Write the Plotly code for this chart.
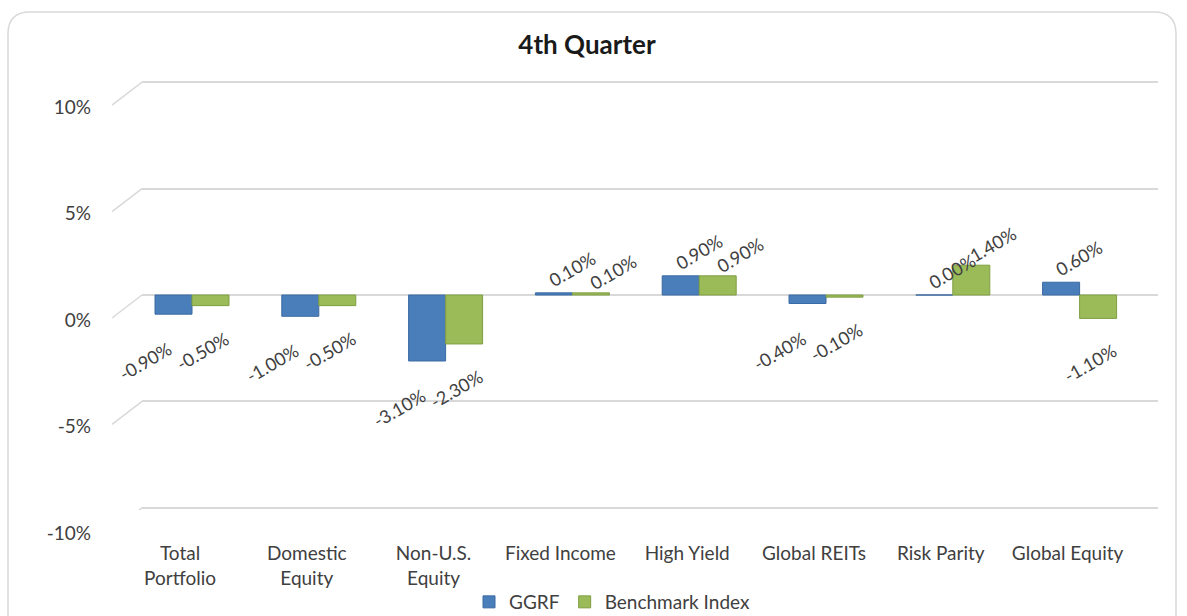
import plotly.graph_objects as go

categories = ["Total<br>Portfolio", "Domestic<br>Equity", "Non-U.S.<br>Equity", "Fixed Income",
              "High Yield", "Global REITs", "Risk Parity", "Global Equity"]
ggrf = [-0.90, -1.00, -3.10, 0.10, 0.90, -0.40, 0.00, 0.60]
benchmark = [-0.50, -0.50, -2.30, 0.10, 0.90, -0.10, 1.40, -1.10]
y_tickvals = [-10, -5, 0, 5, 10]
y_ticktext = ["-10%", "-5%", "0%", "5%", "10%"]

FONT = "Lato, 'Open Sans', Arial, sans-serif"
TXT = "#404040"
BLUE, GREEN = "#4A7EBB", "#9BBB59"

W, H = 1187, 616
L, R, T, B = 142, 29, 80, 106
pw, ph = W - L - R, H - T - B
SPACING = 126.8          # px between category centres
FIRST = 192              # px of first category centre
BAR_W = 37               # px per bar

fig = go.Figure()
fig.add_trace(go.Bar(
    name="GGRF", x=categories, y=ggrf,
    marker=dict(color=BLUE, line=dict(color="#3A6AA3", width=1)),
))
fig.add_trace(go.Bar(
    name="Benchmark Index", x=categories, y=benchmark,
    marker=dict(color=GREEN, line=dict(color="#7F9E42", width=1)),
))

# Rotated data labels (positions follow the 3D look of the original)
label_style = {
    # series index: (dx_pos, dy_pos, dx_neg, dy_neg) in px, relative to bar end
    0: (18, 24, -28, -47),
    1: (22, 21, -8, -45),
}
for si, vals in enumerate([ggrf, benchmark]):
    off = (-0.5 if si == 0 else 0.5) * BAR_W
    dxp, dyp, dxn, dyn = label_style[si]
    for c, v in zip(categories, vals):
        pos = v >= 0
        fig.add_annotation(
            x=c, y=v, xref="x", yref="y", text=f"{v:.2f}%", showarrow=False,
            textangle=-30, xanchor="center", yanchor="middle",
            xshift=off + (dxp if pos else dxn), yshift=(dyp if pos else dyn),
            font=dict(family=FONT, size=18, color=TXT),
        )

# Perspective stubs of the gridlines (front edge of the 3D walls)
for v in y_tickvals:
    fig.add_shape(type="line", xref="paper", yref="y",
                  xsizemode="pixel", ysizemode="pixel",
                  xanchor=0, yanchor=v, x0=0, x1=-30, y0=0, y1=-23,
                  line=dict(color="#d9d9d9", width=1.5), layer="below")

# Rounded chart border
def px(x): return (x - L) / pw
def py(y): return (H - B - y) / ph
x0, x1, y0, y1, r = 8, 1176, 12, 640, 22
path = (f"M {px(x0)} {py(y1)} L {px(x0)} {py(y0 + r)} "
        f"Q {px(x0)} {py(y0)} {px(x0 + r)} {py(y0)} "
        f"L {px(x1 - r)} {py(y0)} Q {px(x1)} {py(y0)} {px(x1)} {py(y0 + r)} "
        f"L {px(x1)} {py(y1)}")
fig.add_shape(type="path", xref="paper", yref="paper", path=path,
              line=dict(color="#d9d9d9", width=1.5), layer="below")

fig.update_layout(
    width=W, height=H,
    margin=dict(l=L, r=R, t=T, b=B, autoexpand=False),
    paper_bgcolor="white", plot_bgcolor="white",
    barmode="group", bargap=1 - 2 * BAR_W / SPACING, bargroupgap=0.0,
    title=dict(text="<b>4th Quarter</b>", x=587 / W, xanchor="center",
               y=1 - 45 / H, yanchor="middle",
               font=dict(family=FONT, size=26, color="#1a1a1a")),
    font=dict(family=FONT, color=TXT),
    showlegend=True,
    legend=dict(orientation="h", x=px(612), xanchor="center", y=py(602),
                yanchor="middle", font=dict(family=FONT, size=19, color=TXT),
                itemwidth=30, tracegroupgap=0, bgcolor="rgba(0,0,0,0)"),
    xaxis=dict(range=[(L - FIRST) / SPACING, (W - R - FIRST) / SPACING], showgrid=False,
               showline=False, zeroline=False, ticks="", automargin=False,
               tickfont=dict(family=FONT, size=19, color=TXT),
               ticklabelshift=-12, ticklabelstandoff=30),
    yaxis=dict(range=[-10.1, 10.1], tickvals=y_tickvals, ticktext=y_ticktext,
               showgrid=True, gridcolor="#d9d9d9", gridwidth=1.5,
               zeroline=True, zerolinecolor="#d9d9d9", zerolinewidth=1.5,
               showline=False, ticks="", automargin=False,
               tickfont=dict(family=FONT, size=19, color=TXT),
               ticklabelshift=25, ticklabelstandoff=50),
)

fig.write_html("out.html", config={"displayModeBar": False},
               post_script="document.body.style.margin='0';")
